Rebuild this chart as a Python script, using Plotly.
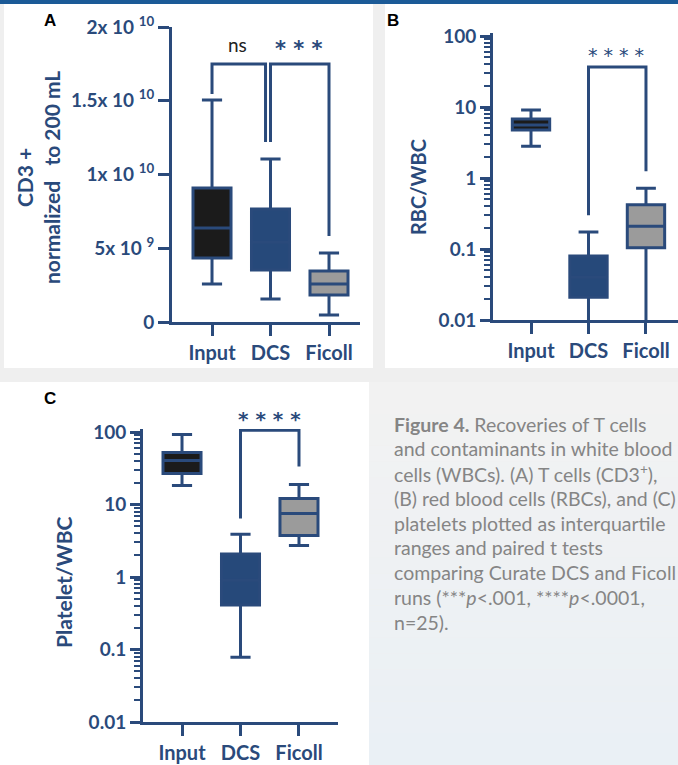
import plotly.graph_objects as go
import numpy as np

W, H = 678, 765
BLUE = "#2a4a7b"
FONT = "Lato"
STARFONT = "DejaVu Sans"

categories = ["Input", "DCS", "Ficoll"]
fill_colors = ["#1b1b1b", "#26497a", "#9b9b9b"]

# Panel A: CD3+ normalized to 200 mL
a_lower = [2.58e9, 1.56e9, 0.47e9]
a_q1 = [4.34e9, 3.53e9, 1.83e9]
a_median = [6.37e9, 5.4e9, 2.58e9]
a_q3 = [9.08e9, 7.66e9, 3.46e9]
a_upper = [1.505e10, 1.105e10, 4.68e9]
a_ticks = [0, 5e9, 1e10, 1.5e10, 2e10]
a_ticktext = ["0", "5x 10 <sup>9</sup>", "1x 10 <sup>10</sup>",
              "1.5x 10 <sup>10</sup>", "2x 10 <sup>10</sup>"]

# Panel B: RBC/WBC
b_lower = [2.8, 0.006, 0.006]
b_q1 = [4.74, 0.021, 0.104]
b_median = [5.6, 0.04, 0.21]
b_q3 = [6.8, 0.08, 0.42]
b_upper = [9.1, 0.174, 0.72]

# Panel C: Platelet/WBC
c_lower = [18.3, 0.078, 2.72]
c_q1 = [26.8, 0.41, 3.73]
c_median = [40.5, 0.9, 7.5]
c_q3 = [52.0, 2.07, 12.1]
c_upper = [92.5, 3.9, 18.9]

# significance brackets: (x_left, x_right, y_top, y_left_end, y_right_end)
sig_A = [(0, 0.915, 1.749e10, 1.546e10, 1.22e10),
         (1, 2, 1.749e10, 1.22e10, 5.83e9)]
sig_B = [(1, 2, 36.6, 0.30, 1.25)]
sig_C = [(1, 2, 106, 6.4, 33.4)]

caption_lines = [
    "<b>Figure 4.</b> Recoveries of T cells",
    "and contaminants in white blood",
    "cells (WBCs). (A) T cells (CD3<sup>+</sup>),",
    "(B) red blood cells (RBCs), and (C)",
    "platelets plotted as interquartile",
    "ranges and paired t tests",
    "comparing Curate DCS and Ficoll",
    "runs (***<i>p</i>&lt;.001, ****<i>p</i>&lt;.0001,",
    "n=25).",
]


def px(x):
    return x / W


def py(y):
    return 1 - y / H


fig = go.Figure()

panels = [
    ("x", "y", a_lower, a_q1, a_median, a_q3, a_upper, sig_A),
    ("x2", "y2", b_lower, b_q1, b_median, b_q3, b_upper, sig_B),
    ("x3", "y3", c_lower, c_q1, c_median, c_q3, c_upper, sig_C),
]

for xa, ya, lo, q1, med, q3, up, sig in panels:
    for i, cat in enumerate(categories):
        fig.add_trace(go.Box(
            x=[i], q1=[q1[i]], median=[med[i]], q3=[q3[i]],
            lowerfence=[lo[i]], upperfence=[up[i]],
            fillcolor=fill_colors[i], line=dict(color=BLUE, width=3),
            width=0.65, whiskerwidth=0.53, boxpoints=False,
            xaxis=xa, yaxis=ya, showlegend=False, hoverinfo="skip",
            name=cat))
    for (xl, xr, yt, yl, yr) in sig:
        fig.add_trace(go.Scatter(
            x=[xl, xl, xr, xr], y=[yl, yt, yt, yr], mode="lines",
            line=dict(color=BLUE, width=3), xaxis=xa, yaxis=ya,
            showlegend=False, hoverinfo="skip"))

axis_common = dict(showline=True, linewidth=3, linecolor=BLUE, ticks="outside",
                   tickwidth=3, tickcolor=BLUE, showgrid=False, zeroline=False,
                   automargin=False,
                   tickfont=dict(family=FONT, size=19, color=BLUE, weight="bold"))

xcommon = dict(axis_common, tickvals=[0, 1, 2], ticktext=categories, ticklen=11,
               tickfont=dict(family=FONT, size=20, color=BLUE, weight="bold"))

fig.update_layout(
    width=W, height=H, autosize=False,
    margin=dict(l=0, r=0, t=0, b=0, pad=0, autoexpand=False),
    paper_bgcolor="#efefef", plot_bgcolor="rgba(0,0,0,0)",
    xaxis=dict(xcommon, domain=[px(172), px(360)], range=[-0.684, 2.53], anchor="y"),
    yaxis=dict(axis_common, domain=[py(322), py(27)], range=[0, 2e10], anchor="x",
               tickvals=a_ticks, ticktext=a_ticktext, ticklen=11),
    xaxis2=dict(xcommon, domain=[px(493), 1.0], range=[-0.661, 2.557], anchor="y2"),
    yaxis2=dict(axis_common, domain=[py(320), py(33.2)], type="log", range=[-2, 2.04],
                anchor="x2", dtick=1, ticklen=10,
                minor=dict(dtick="D1", ticks="outside", ticklen=6, tickwidth=2,
                           tickcolor=BLUE, showgrid=False)),
    xaxis3=dict(xcommon, domain=[px(143), px(338)], range=[-0.667, 2.667], anchor="y3"),
    yaxis3=dict(axis_common, domain=[py(722), py(429.1)], type="log", range=[-2, 2.04],
                anchor="x3", dtick=1, ticklen=10,
                minor=dict(dtick="D1", ticks="outside", ticklen=6, tickwidth=2,
                           tickcolor=BLUE, showgrid=False)),
)

# backgrounds
shapes = [
    dict(type="rect", xref="paper", yref="paper", x0=px(4), x1=px(373), y0=py(368), y1=py(4),
         fillcolor="white", line_width=0, layer="below"),
    dict(type="rect", xref="paper", yref="paper", x0=px(385), x1=1, y0=py(368), y1=py(4),
         fillcolor="white", line_width=0, layer="below"),
    dict(type="rect", xref="paper", yref="paper", x0=0, x1=px(369), y0=0, y1=py(382),
         fillcolor="white", line_width=0, layer="below"),
    dict(type="rect", xref="paper", yref="paper", x0=0, x1=1, y0=py(4), y1=1,
         fillcolor="#1b5a97", line_width=0, layer="below"),
]
nb = 24
top_c = np.array([242, 242, 242])
bot_c = np.array([234, 240, 245])
y_start, y_end = 382, 765
for k in range(nb):
    t = k / (nb - 1)
    c = (top_c * (1 - t) + bot_c * t).round().astype(int)
    y0 = y_start + (y_end - y_start) * k / nb
    y1 = y_start + (y_end - y_start) * (k + 1) / nb
    shapes.append(dict(type="rect", xref="paper", yref="paper", x0=px(369), x1=1,
                       y0=py(y1), y1=py(y0), fillcolor=f"rgb({c[0]},{c[1]},{c[2]})",
                       line_width=0, layer="below"))
fig.update_layout(shapes=shapes)


def note(text, x, y, xref="paper", size=19, color=BLUE, family=FONT, weight="bold",
         angle=0, xanchor="center"):
    return dict(text=text, x=x, y=y, xref=xref, yref="paper", showarrow=False,
                xanchor=xanchor, yanchor="middle", textangle=angle,
                font=dict(family=family, size=size, color=color, weight=weight))


ann = []
# panel letters
for lab, x, y in [("A", 50, 20), ("B", 393, 20), ("C", 50, 398)]:
    ann.append(note(lab, px(x), py(y), size=17, color="black", family="Liberation Sans"))
# axis titles
ann.append(note("CD3 +<br>normalized\u00a0\u00a0 to 200 mL", px(38), py(178), size=21, angle=-90))
ann.append(note("RBC/WBC", px(418), py(187), size=20, angle=-90))
ann.append(note("Platelet/WBC", px(63), py(583), size=21, angle=-90))
# significance labels
ann.append(note("ns", 0.43, py(44), xref="x", size=19, color="#222222", weight="normal"))
ann.append(note("* * *", 1.49, py(49), xref="x", size=21, family=STARFONT))
ann.append(note("* * * *", 1.47, py(55), xref="x2", size=19, family=STARFONT, weight="normal"))
ann.append(note("* * * *", 1.5, py(419), xref="x3", size=20, family=STARFONT))
# caption
for i, line in enumerate(caption_lines):
    ann.append(note(line, px(392), py(424 + 24.75 * i), size=19.5, color="#858585",
                    weight="normal", xanchor="left"))
fig.update_layout(annotations=ann)

fig.write_html("out.html")
